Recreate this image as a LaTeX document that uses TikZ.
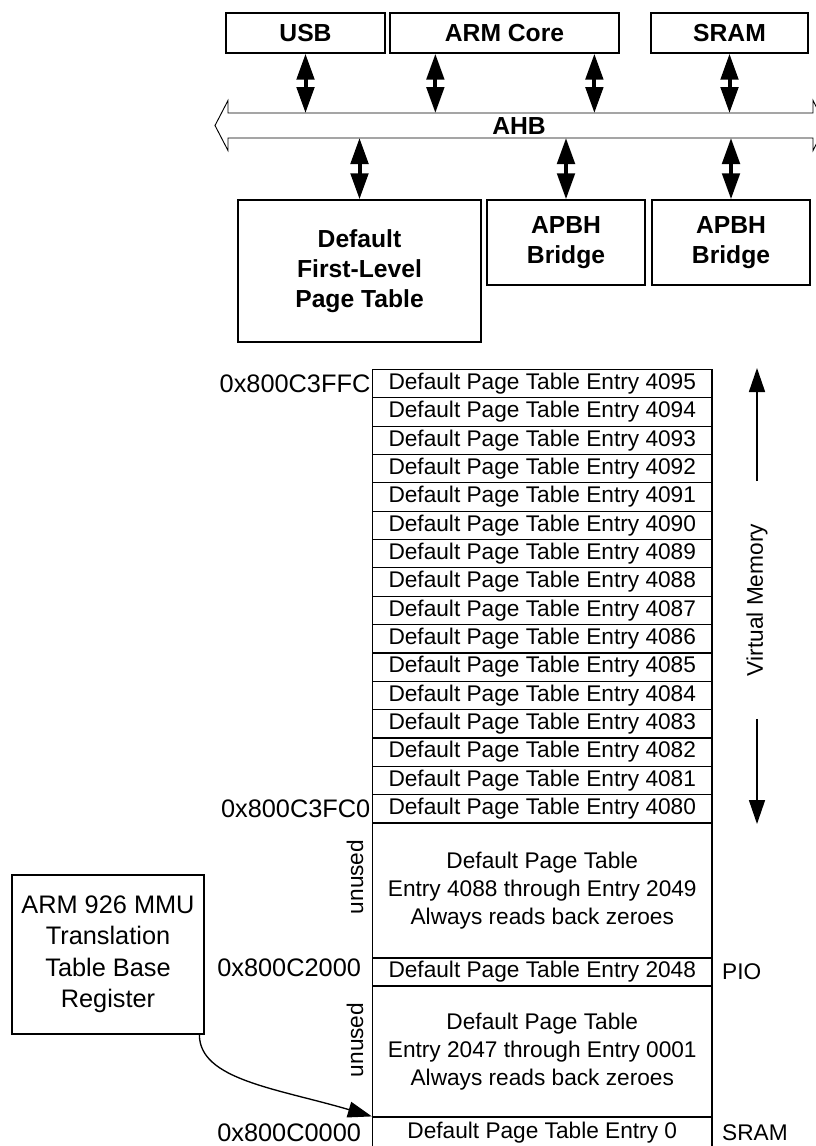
\documentclass[tikz,border=0pt]{standalone}
\usepackage{fontspec}
\setmainfont{Liberation Sans}
\usetikzlibrary{arrows.meta,calc}

\tikzset{
  block/.style={draw, line width=1.1pt, align=center, inner sep=0pt,
    font=\bfseries\fontsize{18.5}{22.5}\selectfont},
  entry/.style={draw, line width=0.9pt, inner sep=0pt, align=center,
    minimum width=254.6pt, minimum height=21.26pt,
    font=\fontsize{17}{21}\selectfont},
  addr/.style={anchor=east, inner sep=1pt, font=\fontsize{19}{21}\selectfont},
  plain/.style={inner sep=0pt, align=center, font=\fontsize{17}{21}\selectfont},
  duplex/.style={line width=3pt,
    {Triangle[length=19.5pt,width=13pt]}-{Triangle[length=19.5pt,width=13pt]}},
  pointer/.style={line width=1pt, -{Triangle[length=18pt,width=12pt]}},
}

\begin{document}
\begin{tikzpicture}[x=0.75pt,y=-0.75pt]
\useasboundingbox (0,0) rectangle (816,1146);
\clip (0,0) rectangle (816,1146);

% --- Bus masters and slaves ---
\node[block, minimum width=119.25pt, minimum height=30pt] (usb) at (305.5,33) {USB};
\node[block, minimum width=171.75pt, minimum height=30pt] (arm) at (504.5,33) {ARM Core};
\node[block, minimum width=117.75pt, minimum height=30pt] (sram) at (729.5,33) {SRAM};

\node[block, minimum width=182.25pt, minimum height=106.5pt] (ptable) at (359.5,271) {Default\\First-Level\\Page Table};
\node[block, minimum width=118.5pt, minimum height=63.75pt] (apbh) at (566,242.5) {APBH\\Bridge};
\node[block, minimum width=118.5pt, minimum height=63.75pt] (apbx) at (731,242.5) {APBH\\Bridge};

% AHB bus (hollow double arrow)
\draw[line width=0.7pt] (215,125.5) -- (228,100.5) -- (228,113) -- (813,113) -- (813,100.5)
  -- (826,125.5) -- (813,150.5) -- (813,138) -- (228,138) -- (228,150.5) -- cycle;
\node[block, draw=none] (ahb) at (519,126) {AHB};
\coordinate (bustop) at (0,113);
\coordinate (busbot) at (0,138);

% Links to the bus
\coordinate (armL) at ($(arm.south west)!0.2!(arm.south east)$);
\coordinate (armR) at ($(arm.south west)!0.89!(arm.south east)$);
\draw[duplex] (usb.south) -- (usb.south |- bustop);
\draw[duplex] (armL) -- (armL |- bustop);
\draw[duplex] (armR) -- (armR |- bustop);
\draw[duplex] (sram.south) -- (sram.south |- bustop);
\draw[duplex] (ptable.north |- busbot) -- (ptable.north);
\draw[duplex] (apbh.north |- busbot) -- (apbh.north);
\draw[duplex] (apbx.north |- busbot) -- (apbx.north);

% --- Page table entries ---
\foreach \i in {0,...,15} {
  \pgfmathtruncatemacro{\n}{4095-\i}
  \node[entry] (e\n) at (542.25,{383.67+\i*28.34}) {Default Page Table Entry \n};
}
\node[entry, minimum height=101.3pt] (free1) at (542.25,890.5)
  {Default Page Table\\Entry 4088 through Entry 2049\\Always reads back zeroes};
\node[entry] (e2048) at (542.25,972) {Default Page Table Entry 2048};
\node[entry, minimum height=98.25pt] (free2) at (542.25,1051.5)
  {Default Page Table\\Entry 2047 through Entry 0001\\Always reads back zeroes};
\node[entry, minimum height=23.25pt] (e0) at (542.25,1132.5) {Default Page Table Entry 0};

% Addresses
\node[addr] (a3ffc) at (e4095.west) {0x800C3FFC};
\node[addr] (a3fc0) at (e4080.west) {0x800C3FC0};
\node[addr] (a2000) at ([xshift=-7pt,yshift=3pt]e2048.west) {0x800C2000};
\node[addr] (a0000) at ([xshift=-7pt]e0.west) {0x800C0000};
\node[plain, anchor=west] (pio) at ([xshift=7pt]e2048.east) {PIO};
\node[plain, anchor=west] (sramlbl) at ([xshift=7pt]e0.east) {SRAM};

% Unused regions
\node[plain, rotate=90] (unused1) at (355,877) {unused};
\node[plain, rotate=90] (unused2) at (355,1040) {unused};

% Virtual memory span
\node[plain, rotate=90, inner xsep=32pt] (vm) at (757,600) {Virtual Memory};
\coordinate (vmtop) at (757,368);
\coordinate (vmbot) at (757,824);
\draw[pointer, line width=1.2pt] (vm.east) -- (vmtop);
\draw[pointer, line width=1.2pt] (vm.west) -- (vmbot);

% --- MMU register ---
\node[draw, line width=1.1pt, align=center, inner sep=0pt,
  minimum width=144pt, minimum height=119.25pt,
  font=\fontsize{19}{23.6}\selectfont] (reg) at (108,954.5)
  {ARM 926 MMU\\Translation\\Table Base\\Register};
\draw[pointer] ([xshift=-4pt]reg.south east) .. controls +(0,45) and +(-95,-28) .. (e0.north west);

\end{tikzpicture}
\end{document}
